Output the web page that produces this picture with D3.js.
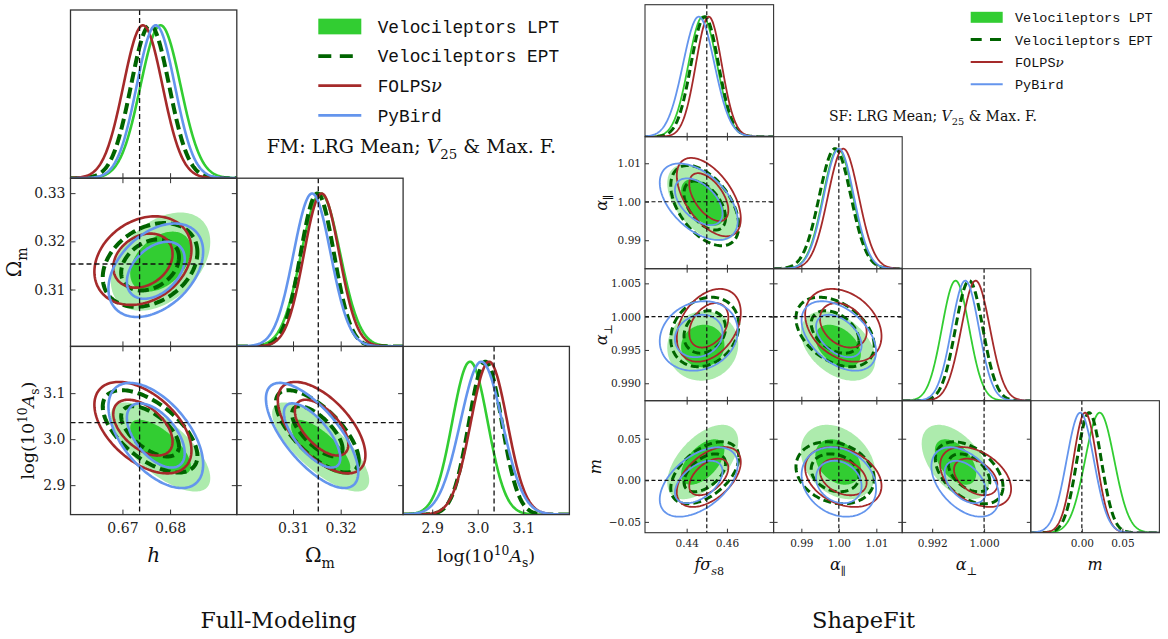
<!DOCTYPE html>
<html><head><meta charset="utf-8">
<script src="https://cdn.jsdelivr.net/npm/d3@7"></script>
<style>body{margin:0;background:#fff}</style>
</head><body>
<svg id="c" width="1168" height="639"></svg>
<script>
// ---------- series ----------
const series = ["Velocileptors LPT", "Velocileptors EPT", "FOLPS", "PyBird"];
const seriesColors = ["#32cd32", "#006400", "#a52a2a", "#6495ed"];

// ---------- Full-Modeling (posterior mean / sd per series: LPT, EPT, FOLPS, PyBird) ----------
const fmMeanH   = [0.6780, 0.6758, 0.6743, 0.6770];
const fmSdH     = [0.0042, 0.0040, 0.0041, 0.0040];
const fmMeanOm  = [0.3158, 0.3151, 0.3160, 0.3140];
const fmSdOm    = [0.0041, 0.0035, 0.0037, 0.0039];
const fmMeanAs  = [2.983, 3.017, 3.025, 3.008];
const fmSdAs    = [0.039, 0.036, 0.040, 0.046];
const fmCorrHOm  = [0.40, 0.30, 0.25, 0.40];
const fmCorrHAs  = [-0.70, -0.60, -0.50, -0.55];
const fmCorrOmAs = [-0.75, -0.70, -0.60, -0.70];
const fmTruth = [0.6736, 0.3153, 3.036];
const fmRangeH = [0.6591, 0.6940], fmRangeOm = [0.2982, 0.3331], fmRangeAs = [2.836, 3.2016];
const fmTicksH = [0.67, 0.68], fmTickLabelsH = ["0.67", "0.68"];
const fmTicksOmX = [0.31, 0.32], fmTickLabelsOmX = ["0.31", "0.32"];
const fmTicksOmY = [0.31, 0.32, 0.33], fmTickLabelsOmY = ["0.31", "0.32", "0.33"];
const fmTicksAs = [2.9, 3.0, 3.1], fmTickLabelsAs = ["2.9", "3.0", "3.1"];

// ---------- ShapeFit ----------
const sfMeanF    = [0.4480, 0.4490, 0.4510, 0.4460];
const sfSdF      = [0.0071, 0.0068, 0.0064, 0.0078];
const sfMeanPar  = [0.9998, 0.9990, 1.0012, 1.0000];
const sfSdPar    = [0.0040, 0.0042, 0.0041, 0.0040];
const sfMeanPerp = [0.9956, 0.9977, 0.9987, 0.9971];
const sfSdPerp   = [0.0021, 0.0021, 0.0022, 0.0021];
const sfMeanM    = [0.022, 0.009, 0.004, -0.002];
const sfSdM      = [0.018, 0.015, 0.0145, 0.0168];
const sfCorrFPar   = [-0.50, -0.50, -0.55, -0.50];
const sfCorrFPerp  = [0.05, 0.20, 0.35, 0.15];
const sfCorrFM     = [0.55, 0.50, 0.50, 0.50];
const sfCorrParPerp= [-0.40, -0.40, -0.30, -0.45];
const sfCorrParM   = [-0.30, -0.20, -0.30, -0.20];
const sfCorrPerpM  = [-0.50, -0.45, -0.40, -0.45];
const sfTruth = [0.450, 1.0, 1.0, 0.0];
const sfRangeF = [0.4193, 0.4832], sfRangePar = [0.9826, 1.0169], sfRangePerp = [0.98738, 1.0072], sfRangeM = [-0.063, 0.0957];
const sfTicksF = [0.44, 0.46], sfTickLabelsF = ["0.44", "0.46"];
const sfTicksPar = [0.99, 1.00, 1.01], sfTickLabelsPar = ["0.99", "1.00", "1.01"];
const sfTicksPerpX = [0.992, 1.000], sfTickLabelsPerpX = ["0.992", "1.000"];
const sfTicksPerpY = [0.990, 0.995, 1.000, 1.005], sfTickLabelsPerpY = ["0.990", "0.995", "1.000", "1.005"];
const sfTicksMX = [0.00, 0.05], sfTickLabelsMX = ["0.00", "0.05"];
const sfTicksMY = [-0.05, 0.00, 0.05], sfTickLabelsMY = ["\u22120.05", "0.00", "0.05"];

// ---------- drawing ----------
const svg = d3.select("#c");
const SERIF = "DejaVu Serif";
const MONO = "Liberation Mono";
let clipN = 0;

function addRich(parent, parts, x, y, size, opts = {}) {
  const t = parent.append("text").attr("x", x).attr("y", y).attr("font-size", size)
    .attr("font-family", opts.family || SERIF).attr("text-anchor", opts.anchor || "middle").attr("fill", "#111");
  if (opts.rotate) t.attr("transform", `rotate(-90 ${x} ${y})`);
  let shift = 0;
  parts.forEach(p => {
    const s = t.append("tspan").text(p.t);
    const target = p.sub ? size * 0.3 : p.sup ? -size * 0.42 : 0;
    if (target !== shift) { s.attr("dy", target - shift); shift = target; }
    if (p.sub || p.sup) s.attr("font-size", size * 0.7);
    if (p.it) s.attr("font-style", "italic");
    if (p.family) s.attr("font-family", p.family);
  });
  return t;
}

function ellipsePts(mx, my, sx, sy, rho, r2) {
  const r = Math.sqrt(r2), pts = [], c = Math.sqrt(1 - rho * rho);
  for (let k = 0; k <= 160; k++) {
    const t = 2 * Math.PI * k / 160, u = r * Math.cos(t), v = r * Math.sin(t);
    pts.push([mx + sx * u, my + sy * (rho * u + c * v)]);
  }
  return pts;
}

function styleAxis(sel, size) {
  sel.selectAll(".domain").remove();
  sel.selectAll("line").attr("stroke", "#333").attr("stroke-width", 1);
  sel.selectAll("text").attr("font-family", SERIF).attr("font-size", size).attr("fill", "#222");
  sel.attr("font-family", SERIF);
}

function corner(o) {
  const n = o.params.length;
  const g = svg.append("g");
  const levels = [6.17, 2.30];
  for (let i = 0; i < n; i++) for (let j = 0; j <= i; j++) {
    const px = o.x0 + j * o.pw, py = o.y0 + i * o.ph;
    const pj = o.params[j], pi = o.params[i];
    const id = "clip" + (clipN++);
    svg.append("clipPath").attr("id", id).append("rect").attr("x", px).attr("y", py).attr("width", o.pw).attr("height", o.ph);
    const pg = g.append("g").attr("clip-path", `url(#${id})`);
    const xs = d3.scaleLinear().domain(pj.range).range([px, px + o.pw]);
    if (i === j) {
      const ys = d3.scaleLinear().domain([0, 1.1]).range([py + o.ph, py]);
      const grid = d3.range(0, 301).map(k => pj.range[0] + (pj.range[1] - pj.range[0]) * k / 300);
      series.forEach((s, si) => {
        const m = pj.mean[si], sd = pj.sd[si];
        const line = d3.line().x(d => xs(d)).y(d => ys(Math.exp(-0.5 * ((d - m) / sd) ** 2)));
        pg.append("path").attr("d", line(grid)).attr("fill", "none")
          .attr("stroke", seriesColors[si]).attr("stroke-width", si === 1 ? o.dlw : o.lw)
          .attr("stroke-dasharray", si === 1 ? o.dash : null);
      });
      pg.append("line").attr("x1", xs(pj.truth)).attr("x2", xs(pj.truth)).attr("y1", py).attr("y2", py + o.ph)
        .attr("stroke", "#111").attr("stroke-width", o.tw).attr("stroke-dasharray", o.tdash);
    } else {
      const ys = d3.scaleLinear().domain(pi.range).range([py + o.ph, py]);
      const line = d3.line().x(d => xs(d[0])).y(d => ys(d[1]));
      series.forEach((s, si) => {
        const rho = o.corr(j, i)[si];
        levels.forEach((lv, li) => {
          const pts = ellipsePts(pj.mean[si], pi.mean[si], pj.sd[si], pi.sd[si], rho, lv);
          const p = pg.append("path").attr("d", line(pts) + "Z");
          if (si === 0) {
            p.attr("fill", li === 0 ? "#adebad" : "#32cd32").attr("stroke", "none");
          } else {
            p.attr("fill", "none").attr("stroke", seriesColors[si])
              .attr("stroke-width", si === 1 ? o.dlw : o.lw)
              .attr("stroke-dasharray", si === 1 ? o.dash : null);
          }
        });
      });
      pg.append("line").attr("x1", xs(pj.truth)).attr("x2", xs(pj.truth)).attr("y1", py).attr("y2", py + o.ph)
        .attr("stroke", "#111").attr("stroke-width", o.tw).attr("stroke-dasharray", o.tdash);
      pg.append("line").attr("y1", ys(pi.truth)).attr("y2", ys(pi.truth)).attr("x1", px).attr("x2", px + o.pw)
        .attr("stroke", "#111").attr("stroke-width", o.tw).attr("stroke-dasharray", o.tdash);
      const ax = g.append("g");
      const yl = d3.axisLeft(ys).tickValues(pi.ticksY).tickSize(-o.tl).tickPadding(o.padY)
        .tickFormat((d, k) => j === 0 ? pi.tickLabelsY[k] : "");
      ax.append("g").attr("transform", `translate(${px},0)`).call(yl);
      ax.append("g").attr("transform", `translate(${px + o.pw},0)`)
        .call(d3.axisRight(ys).tickValues(pi.ticksY).tickSize(-o.tl).tickFormat(""));
      ax.append("g").attr("transform", `translate(0,${py})`)
        .call(d3.axisTop(xs).tickValues(pj.ticksX).tickSize(-o.tl).tickFormat(""));
      styleAxis(ax, o.tickFont);
    }
    const bx = g.append("g").attr("transform", `translate(0,${py + o.ph})`)
      .call(d3.axisBottom(xs).tickValues(pj.ticksX).tickSize(-o.tl).tickPadding(o.padX)
        .tickFormat((d, k) => i === n - 1 ? pj.tickLabelsX[k] : ""));
    styleAxis(bx, o.tickFont);
    g.append("rect").attr("x", px).attr("y", py).attr("width", o.pw).attr("height", o.ph)
      .attr("fill", "none").attr("stroke", "#333").attr("stroke-width", o.fw);
  }
  o.params.forEach((p, j) => {
    const fs = p.labelSize || o.labelFont;
    addRich(g, p.label, o.x0 + (j + 0.5) * o.pw, o.xLabelY, fs);
    if (j > 0) addRich(g, p.label, p.yLabelX, o.y0 + (j + 0.5) * o.ph, fs, { rotate: true });
  });
}

// ---------- Full-Modeling corner ----------
const fmParams = [
  { mean: fmMeanH, sd: fmSdH, range: fmRangeH, truth: fmTruth[0], ticksX: fmTicksH, tickLabelsX: fmTickLabelsH,
    ticksY: [], tickLabelsY: [], label: [{ t: "h", it: 1 }], yLabelX: 0 },
  { mean: fmMeanOm, sd: fmSdOm, range: fmRangeOm, truth: fmTruth[1], ticksX: fmTicksOmX, tickLabelsX: fmTickLabelsOmX,
    ticksY: fmTicksOmY, tickLabelsY: fmTickLabelsOmY, label: [{ t: "Ω" }, { t: "m", sub: 1 }], yLabelX: 21 },
  { mean: fmMeanAs, sd: fmSdAs, range: fmRangeAs, truth: fmTruth[2], ticksX: fmTicksAs, tickLabelsX: fmTickLabelsAs,
    ticksY: fmTicksAs, tickLabelsY: fmTickLabelsAs, labelSize: 17.5,
    label: [{ t: "log(10" }, { t: "10", sup: 1 }, { t: "A", it: 1 }, { t: "s", sub: 1 }, { t: ")" }], yLabelX: 34 }
];
const fmCorr = (a, b) => {
  const key = [a, b].sort().join("");
  return key === "01" ? fmCorrHOm : key === "02" ? fmCorrHAs : fmCorrOmAs;
};
corner({ x0: 70.5, y0: 10, pw: 166.3, ph: 168.2, params: fmParams, corr: fmCorr,
  lw: 2.6, dlw: 4, dash: "11,5", tw: 1.3, tdash: "5,3", tl: 5, fw: 1.3,
  tickFont: 14, padX: 8, padY: 5, labelFont: 20, xLabelY: 562 });

// ---------- ShapeFit corner ----------
const sfParams = [
  { mean: sfMeanF, sd: sfSdF, range: sfRangeF, truth: sfTruth[0], ticksX: sfTicksF, tickLabelsX: sfTickLabelsF,
    ticksY: [], tickLabelsY: [], label: [{ t: "f", it: 1 }, { t: "σ", it: 1 }, { t: "s", sub: 1, it: 1 }, { t: "8", sub: 1 }], yLabelX: 0 },
  { mean: sfMeanPar, sd: sfSdPar, range: sfRangePar, truth: sfTruth[1], ticksX: sfTicksPar, tickLabelsX: sfTickLabelsPar,
    ticksY: sfTicksPar, tickLabelsY: sfTickLabelsPar, label: [{ t: "α", it: 1 }, { t: "∥", sub: 1 }], yLabelX: 607 },
  { mean: sfMeanPerp, sd: sfSdPerp, range: sfRangePerp, truth: sfTruth[2], ticksX: sfTicksPerpX, tickLabelsX: sfTickLabelsPerpX,
    ticksY: sfTicksPerpY, tickLabelsY: sfTickLabelsPerpY, label: [{ t: "α", it: 1 }, { t: "⊥", sub: 1 }], yLabelX: 607 },
  { mean: sfMeanM, sd: sfSdM, range: sfRangeM, truth: sfTruth[3], ticksX: sfTicksMX, tickLabelsX: sfTickLabelsMX,
    ticksY: sfTicksMY, tickLabelsY: sfTickLabelsMY, label: [{ t: "m", it: 1 }], yLabelX: 601 }
];
const sfCorr = (a, b) => {
  const key = [a, b].sort().join("");
  return ({ "01": sfCorrFPar, "02": sfCorrFPerp, "03": sfCorrFM, "12": sfCorrParPerp, "13": sfCorrParM, "23": sfCorrPerpM })[key];
};
corner({ x0: 645, y0: 4.7, pw: 128.6, ph: 132, params: sfParams, corr: sfCorr,
  lw: 1.8, dlw: 3, dash: "8,4", tw: 1.2, tdash: "4,2.5", tl: 4, fw: 1.1,
  tickFont: 10.5, padX: 7, padY: 4, labelFont: 16, xLabelY: 570 });

// ---------- legends ----------
function legend(o) {
  const g = svg.append("g");
  series.forEach((s, si) => {
    const yc = o.y + si * o.dy;
    if (si === 0) {
      g.append("rect").attr("x", o.x).attr("y", yc - o.rh / 2).attr("width", o.w).attr("height", o.rh).attr("fill", seriesColors[0]);
    } else {
      g.append("line").attr("x1", o.x).attr("x2", o.x + o.w).attr("y1", yc).attr("y2", yc)
        .attr("stroke", seriesColors[si]).attr("stroke-width", si === 1 ? o.dlw : o.lw)
        .attr("stroke-dasharray", si === 1 ? o.dash : null);
    }
    const t = g.append("text").attr("x", o.tx).attr("y", yc + o.base).attr("font-family", MONO)
      .attr("font-size", o.fs).attr("fill", "#111").text(s);
    if (si === 2) t.append("tspan").attr("font-family", SERIF).attr("font-style", "italic").text("ν");
  });
  addRich(g, [{ t: o.pre + ": LRG Mean; " }, { t: "V", it: 1 }, { t: "25", sub: 1 }, { t: " & Max. F." }],
    o.nx, o.ny, o.nfs, { anchor: "start" });
}
legend({ x: 318.3, y: 26.5, dy: 29.6, w: 43, rh: 15.7, lw: 2.8, dlw: 3.8, dash: "13,8.5", tx: 377.7, base: 6.2, fs: 17.8,
  pre: "FM", nx: 266.7, ny: 153.3, nfs: 19 });
legend({ x: 970.7, y: 17.3, dy: 22.3, w: 32, rh: 11, lw: 2, dlw: 3, dash: "11,8.3", tx: 1015, base: 5, fs: 13.5,
  pre: "SF", nx: 829, ny: 120.5, nfs: 14 });

// ---------- panel titles ----------
svg.append("text").attr("x", 278.5).attr("y", 628).attr("text-anchor", "middle").attr("font-family", SERIF)
  .attr("font-size", 22).attr("fill", "#111").text("Full-Modeling");
svg.append("text").attr("x", 863.5).attr("y", 628).attr("text-anchor", "middle").attr("font-family", SERIF)
  .attr("font-size", 22.5).attr("fill", "#111").text("ShapeFit");
</script>
</body></html>
